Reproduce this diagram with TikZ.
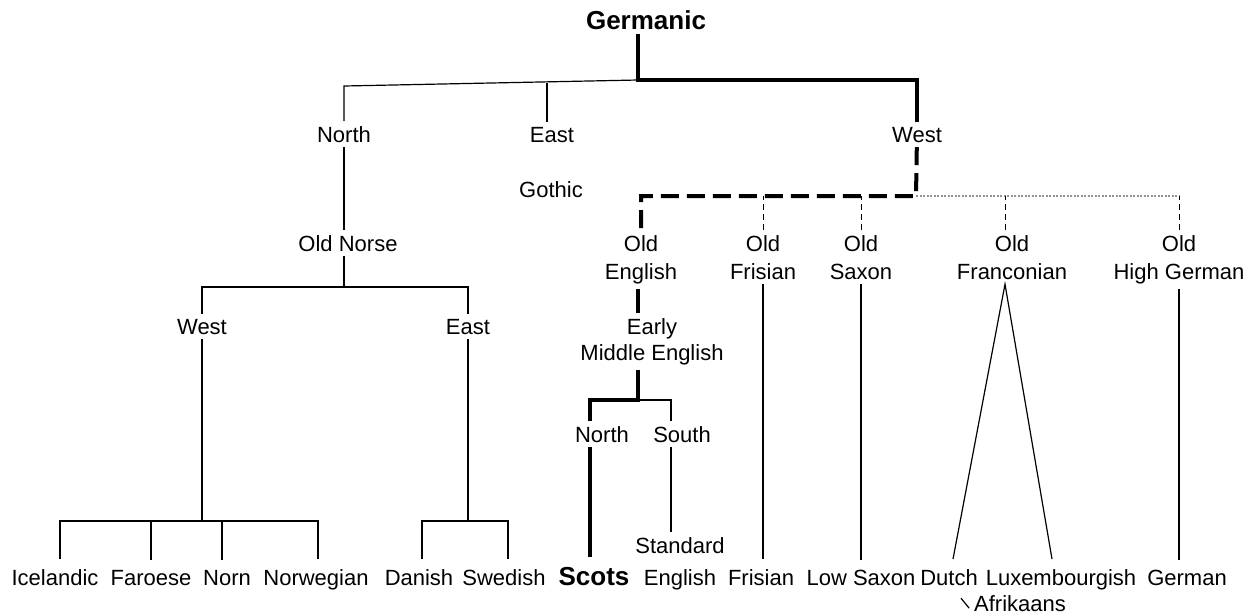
\documentclass[tikz,border=0pt]{standalone}
\usepackage{fontspec}
\setmainfont{Liberation Sans}

\tikzset{
  lang/.style={font=\fontsize{22}{28}\selectfont, inner sep=0pt, outer sep=5pt, align=center, anchor=base},
  leaf/.style={lang, outer sep=10pt},
  rootlang/.style={lang, font=\fontsize{26}{30}\selectfont\bfseries},
  branch/.style={line width=1.2pt},
  famline/.style={line width=4pt},
  famdash/.style={line width=4pt, dash pattern=on 18pt off 8pt},
  thindash/.style={line width=1pt, dash pattern=on 6pt off 4pt},
  faint/.style={line width=1.1pt, gray!85, dash pattern=on 2pt off 1.5pt},
}

\begin{document}
\begin{tikzpicture}[x=1pt,y=-1pt]
\useasboundingbox (0,0) rectangle (1252,614);

% languages (multi-line nodes sit on their last baseline)
\node[rootlang] (ger) at (646,29) {Germanic};
\node[lang] (north) at (344,142) {North};
\node[lang] (east) at (552,142) {East};
\node[lang] (west) at (917,142) {West};
\node[lang] (gothic) at (551,197) {Gothic};
\node[lang] (onorse) at (348,251) {Old Norse};
\node[lang] (nwest) at (202,334) {West};
\node[lang] (neast) at (468,334) {East};
\node[lang] (oeng) at (641,279) {Old\\English};
\node[lang] (ofri) at (763,279) {Old\\Frisian};
\node[lang] (osax) at (861,279) {Old\\Saxon};
\node[lang] (ofra) at (1012,279) {Old\\Franconian};
\node[lang] (ohg) at (1179,279) {Old\\High German};
\node[lang, font=\fontsize{22}{26}\selectfont] (emeng) at (652,360) {Early\\Middle English};
\node[lang] (enorth) at (602,442) {North};
\node[lang] (esouth) at (682,442) {South};
\node[lang, font=\fontsize{22}{32}\selectfont] (stdeng) at (680,585) {Standard\\English};

% present-day languages
\node[leaf] (ice) at (55,585) {Icelandic};
\node[leaf] (far) at (151,585) {Faroese};
\node[leaf] (norn) at (227,585) {Norn};
\node[leaf] (nor) at (316,585) {Norwegian};
\node[leaf] (dan) at (419,585) {Danish};
\node[leaf] (swe) at (504,585) {Swedish};
\node[leaf, font=\fontsize{26}{30}\selectfont\bfseries] (scots) at (594,585) {Scots};
\node[leaf] (fris) at (761,585) {Frisian};
\node[leaf] (lsax) at (861,585) {Low Saxon};
\node[leaf] (dutch) at (949,585) {Dutch};
\node[leaf] (lux) at (1061,585) {Luxembourgish};
\node[leaf] (german) at (1187,585) {German};
\node[lang] (afr) at (1020,611) {Afrikaans};

% top split
\coordinate (g0) at (638,80);
\coordinate (n0) at (344,86);
\coordinate (e0) at (547,83);
\draw[famline] (ger.south -| g0) -- (g0) -| (west);
\draw[branch] (north) -- (n0) -- (g0);
\draw[branch] (east.north -| e0) -- (e0);

% north
\coordinate (on0) at (344,287);
\draw[branch] (north.south) -- (north.south |- onorse.north);
\draw[branch] (onorse.south -| on0) -- (on0);
\draw[branch] (nwest) |- (on0) -| (neast);
\coordinate (nw0) at (202,521);
\coordinate (ne0) at (468,521);
\draw[branch] (nwest) -- (nw0);
\draw[branch] (neast) -- (ne0);
\draw[branch] ([xshift=5pt]ice.north) |- (nw0);
\draw[branch] (far) |- (nw0);
\draw[branch] ([xshift=-5pt]norn.north) |- (nw0);
\draw[branch] ([xshift=2pt]nor.north) |- (nw0);
\draw[branch] ([xshift=3pt]dan.north) |- (ne0) -| ([xshift=4pt]swe.north);

% west
\coordinate (w0) at (916,196);
\draw[famdash] (west) -- (w0) -| (oeng);
\draw[faint] (w0) -- (ohg |- w0);
\draw[thindash] (ofri) -- (ofri |- w0);
\draw[thindash] (osax) -- (osax |- w0);
\draw[thindash] ([xshift=-7pt]ofra.north) -- ([xshift=-7pt]ofra.north |- w0);
\draw[thindash] (ohg) -- (ohg |- w0);

% english
\coordinate (em0) at (638,400);
\draw[famline] ([xshift=-3pt]oeng.south) -- ([xshift=-3pt]oeng.south |- emeng.north);
\draw[famline] (emeng.south -| em0) -- (em0) -| ([xshift=-12pt]enorth.north);
\draw[branch] (em0) -| ([xshift=-11pt]esouth.north);
\draw[famline] ([xshift=-12pt]enorth.south) -- ([xshift=-12pt]enorth.south |- scots.north);
\draw[branch] ([xshift=-11pt]esouth.south) -- ([xshift=-11pt]esouth.south |- stdeng.north);

% other west germanic
\draw[branch] (ofri.south) -- (ofri.south |- fris.north);
\draw[branch] (osax.south) -- (osax.south |- lsax.north);
\draw[branch] ([xshift=4pt]dutch.north) -- ([xshift=-7pt]ofra.south) -- ([xshift=-9pt]lux.north);
\draw[branch] (ohg.south) -- (ohg.south |- german.north);
\draw[branch] ([xshift=12pt,yshift=-3pt]dutch.south) -- ([yshift=-5pt]afr.west);
\end{tikzpicture}
\end{document}
